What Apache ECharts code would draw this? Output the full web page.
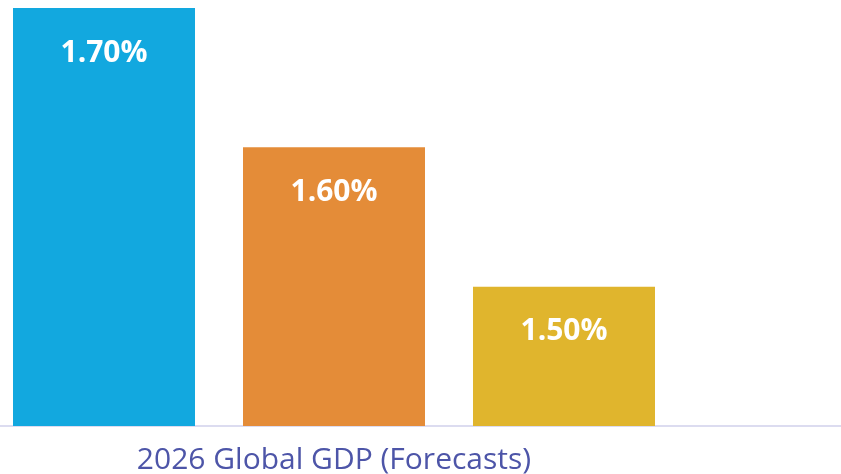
<!DOCTYPE html>
<html>
<head>
<meta charset="utf-8">
<script src="https://cdn.jsdelivr.net/npm/echarts@6/dist/echarts.min.js"></script>
<style>html,body{margin:0;padding:0;background:#fff}#c{width:841px;height:474px}</style>
</head>
<body>
<div id="c"></div>
<script>
const categories = ['2026 Global GDP (Forecasts)'];
const seriesNames = ['Forecast A', 'Forecast B', 'Forecast C'];
const seriesValues = [[1.70], [1.60], [1.50]];
const seriesColors = ['#12a8df', '#e48c38', '#e0b52d'];

const chart = echarts.init(document.getElementById('c'));
chart.setOption({
  animation: false,
  grid: [
    { left: 0, width: 668, top: 8, bottom: 48, outerBoundsMode: 'none', containLabel: false },
    { left: 0, right: 0, top: 8, bottom: 48, outerBoundsMode: 'none', containLabel: false }
  ],
  xAxis: [
    {
      type: 'category', gridIndex: 0, data: categories,
      axisLine: { show: false }, axisTick: { show: false },
      axisLabel: { color: '#4d55a8', fontSize: 30, fontFamily: 'Open Sans', margin: 19 }
    },
    {
      type: 'category', gridIndex: 1, data: [''],
      axisLine: { show: true, lineStyle: { color: '#dcdcf0', width: 2 } },
      axisTick: { show: false }, axisLabel: { show: false }
    }
  ],
  yAxis: [
    { type: 'value', gridIndex: 0, min: 1.4, max: 1.7, show: false },
    { type: 'value', gridIndex: 1, min: 0, max: 1, show: false }
  ],
  series: seriesNames.map((n, i) => ({
    name: n, type: 'bar', xAxisIndex: 0, yAxisIndex: 0,
    data: seriesValues[i],
    barWidth: 182, barGap: '26.37%',
    itemStyle: { color: seriesColors[i] },
    label: {
      show: true, position: 'insideTop', distance: 30,
      color: '#fff', fontWeight: 'bold', fontSize: 30, fontFamily: 'Open Sans',
      formatter: p => p.value.toFixed(2) + '%'
    }
  }))
});
</script>
</body>
</html>
